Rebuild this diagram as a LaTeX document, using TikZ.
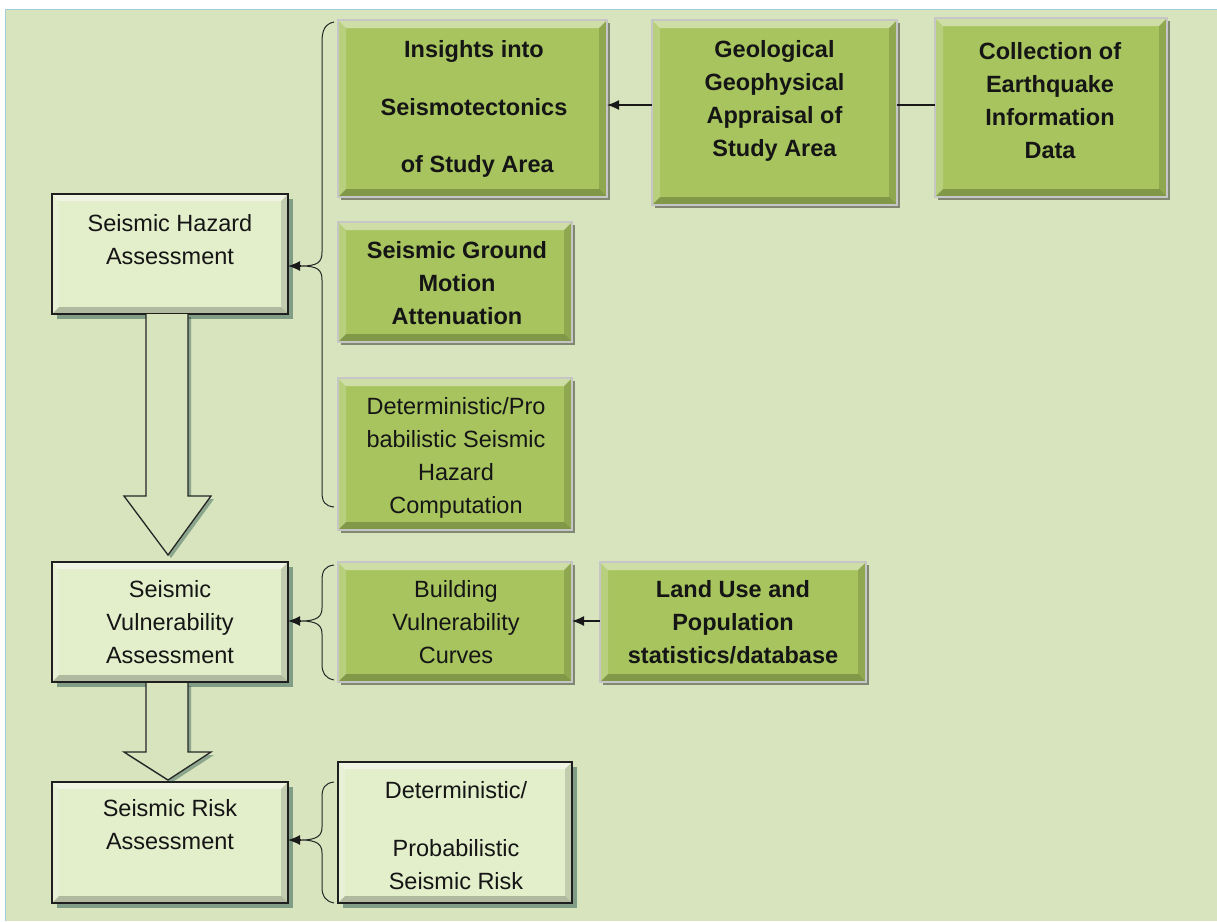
\documentclass[tikz,border=0pt]{standalone}
\usepackage{fontspec}
\setmainfont{Liberation Sans}
\usetikzlibrary{arrows.meta,shadows}
\definecolor{bgc}{HTML}{D7E4BD}
\definecolor{frame}{HTML}{A3CDD9}
\definecolor{grn}{HTML}{A7C45E}
\definecolor{lite}{HTML}{E3EECB}
\definecolor{txt}{HTML}{151515}
\tikzset{
 bevel/.style={path picture={
   \path (path picture bounding box.north west) coordinate (pNW)
         (path picture bounding box.north east) coordinate (pNE)
         (path picture bounding box.south west) coordinate (pSW)
         (path picture bounding box.south east) coordinate (pSE);
   \fill[white,opacity=.45] (pNW) -- (pNE) -- ([shift={(-#1,-#1)}]pNE) -- ([shift={(#1,-#1)}]pNW) -- cycle;
   \fill[white,opacity=.2] (pNW) -- ([shift={(#1,-#1)}]pNW) -- ([shift={(#1,#1)}]pSW) -- (pSW) -- cycle;
   \fill[black,opacity=.22] (pSW) -- (pSE) -- ([shift={(-#1,#1)}]pSE) -- ([shift={(#1,#1)}]pSW) -- cycle;
   \fill[black,opacity=.14] (pNE) -- (pSE) -- ([shift={(-#1,#1)}]pSE) -- ([shift={(-#1,-#1)}]pNE) -- cycle;
 }},
 gbox/.style={draw=gray!45, line width=1.5pt, fill=grn, inner sep=0pt, outer sep=0pt, bevel=8pt,
   drop shadow={shadow xshift=2.5pt, shadow yshift=-2.5pt, fill=black, opacity=.4}},
 lbox/.style={draw=black!88, line width=2.2pt, fill=lite, inner sep=0pt, outer sep=0pt, bevel=7pt,
   drop shadow={shadow xshift=5pt, shadow yshift=-5pt, fill=black!60!teal, opacity=.4}},
 lbl/.style={align=center, text=txt, font=\fontsize{23.5}{33}\selectfont, inner sep=0pt},
 blbl/.style={lbl, font=\fontsize{23.5}{33}\selectfont\bfseries},
 brace/.style={line width=1pt, black!85},
 conn/.style={line width=1.3pt, black!90},
 tipc/.style={conn, -{Latex[length=12pt,width=10pt]}},
 blockarrow/.style={draw=black!85, line width=1.3pt, fill=bgc,
   drop shadow={shadow xshift=3pt, shadow yshift=-3pt, fill=black!60!teal, opacity=.35}}
}
\begin{document}
\begin{tikzpicture}[x=1pt,y=-1pt]
\useasboundingbox (0,0) rectangle (1217,921);
\fill[white] (0,0) rectangle (1217,921);
\fill[bgc] (5,9) rectangle (1217,921);
\draw[frame, line width=1pt] (5,921) -- (5,9) -- (1217,9);

% right-hand boxes
\node[gbox, minimum width=269pt, minimum height=177pt] (ins) at (472.5,108.5) {};
\node[gbox, minimum width=245pt, minimum height=185pt] (geo) at (774.5,112.5) {};
\node[gbox, minimum width=232pt, minimum height=179pt] (col) at (1051,107.5) {};
\node[gbox, minimum width=234pt, minimum height=120pt] (sgm) at (455,282) {};
\node[gbox, minimum width=234pt, minimum height=152pt] (dph) at (455,454) {};
\node[gbox, minimum width=234pt, minimum height=120pt] (bvc) at (455,622) {};
\node[gbox, minimum width=266pt, minimum height=120pt] (lup) at (733,622) {};
\node[lbox, minimum width=234pt, minimum height=141pt] (dpr) at (455,832.5) {};

% left boxes
\node[lbox, minimum width=236pt, minimum height=120pt] (haz) at (170,254) {};
\node[lbox, minimum width=236pt, minimum height=120pt] (vul) at (170,622) {};
\node[lbox, minimum width=236pt, minimum height=121pt] (rsk) at (170,842.5) {};

% texts
\node[blbl] (tins) at (474,109) {Insights into\\[24.5pt]Seismotectonics\\[24.5pt]\ of Study Area};
\node[blbl] (tgeo) at (774.5,101) {Geological\\Geophysical\\Appraisal of\\Study Area};
\node[blbl] (tcol) at (1050,101) {Collection of\\Earthquake\\Information\\Data};
\node[blbl] (tsgm) at (457,283.5) {Seismic Ground\\Motion\\Attenuation};
\node[lbl] (tdph) at (456,457.5) {Deterministic/Pro\\babilistic Seismic\\Hazard\\Computation};
\node[lbl] (tbvc) at (456,622.5) {Building\\Vulnerability\\Curves};
\node[blbl] (tlup) at (733,622) {Land Use and\\Population\\statistics/database};
\node[lbl] (tdpr) at (456,836) {Deterministic/\\[25pt]Probabilistic\\Seismic Risk};
\node[lbl] (thaz) at (170,240) {Seismic Hazard\\Assessment};
\node[lbl] (tvul) at (170,622.5) {Seismic\\Vulnerability\\Assessment};
\node[lbl] (trsk) at (170,825) {Seismic Risk\\Assessment};

% horizontal connectors
\draw[tipc] (geo.west |- 0,105) -- (ins.east |- 0,105);
\draw[conn] (col.west |- 0,105) -- (geo.east |- 0,105);
\draw[tipc] (lup.west |- 0,621) -- (bvc.east |- 0,621);

% braces
\coordinate (b1) at (301,266);
\draw[brace] (334,22) .. controls (325,24) and (322,30) .. (322,42) -- (322,252)
  .. controls (322,262) and (318,266) .. (b1)
  .. controls (318,266) and (322,270) .. (322,280) -- (322,492)
  .. controls (322,502) and (325,506) .. (334,507);
\draw[tipc] (b1) -- (haz.east |- b1);

\coordinate (b2) at (301,621);
\draw[brace] (334,565) .. controls (325,566) and (322,571) .. (322,580) -- (322,608)
  .. controls (322,616) and (318,621) .. (b2)
  .. controls (318,621) and (322,626) .. (322,634) -- (322,664)
  .. controls (322,673) and (325,678) .. (334,680);
\draw[tipc] (b2) -- (vul.east |- b2);

\coordinate (b3) at (301,840);
\draw[brace] (334,782) .. controls (325,783) and (322,788) .. (322,797) -- (322,827)
  .. controls (322,835) and (318,840) .. (b3)
  .. controls (318,840) and (322,845) .. (322,853) -- (322,887)
  .. controls (322,896) and (325,901) .. (334,903);
\draw[tipc] (b3) -- (rsk.east |- b3);

% block arrows
\draw[blockarrow] (146,314) -- (146,496) -- (124,496) -- (168,555) -- (211,496) -- (188,496) -- (188,314);
\draw[blockarrow] (146,683) -- (146,752) -- (124,752) -- (168,780) -- (211,752) -- (188,752) -- (188,683);
\end{tikzpicture}
\end{document}
